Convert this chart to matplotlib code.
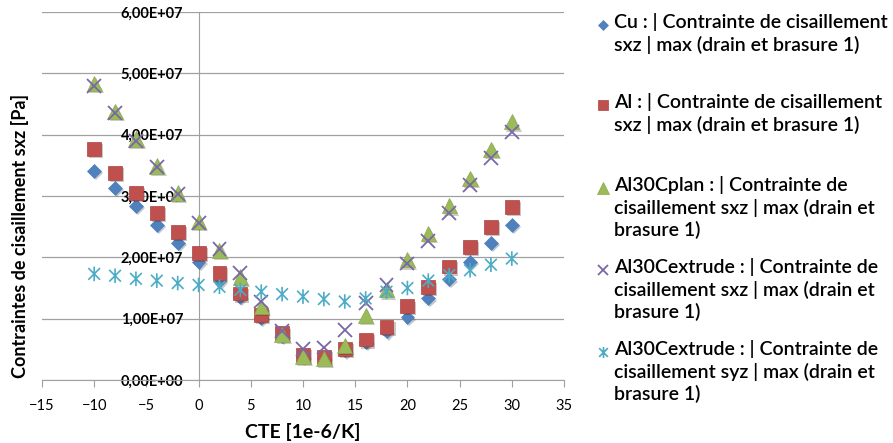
import matplotlib
matplotlib.use("Agg")
import matplotlib.pyplot as plt
import matplotlib.patheffects as pe
from matplotlib.path import Path
from matplotlib.lines import Line2D
from matplotlib.ticker import FuncFormatter, MultipleLocator

plt.rcParams["font.family"] = ["Lato", "DejaVu Sans"]

# CTE values [1e-6/K]
cte = [-10, -8, -6, -4, -2, 0, 2, 4, 6, 8, 10, 12, 14, 16, 18, 20, 22, 24, 26, 28, 30]

# shear stress values, in units of 1e7 Pa
cu_sxz = [3.41, 3.13, 2.84, 2.53, 2.23, 1.93, 1.62, 1.35, 1.01, 0.72, 0.38,
          0.36, 0.48, 0.62, 0.79, 1.02, 1.33, 1.64, 1.93, 2.23, 2.53]
al_sxz = [3.77, 3.38, 3.05, 2.72, 2.41, 2.07, 1.74, 1.41, 1.06, 0.76, 0.41,
          0.38, 0.51, 0.66, 0.87, 1.20, 1.51, 1.85, 2.17, 2.50, 2.82]
al30plan_sxz = [4.84, 4.38, 3.93, 3.49, 3.05, 2.58, 2.11, 1.68, 1.20, 0.74, 0.38,
                0.35, 0.56, 1.05, 1.47, 1.96, 2.39, 2.84, 3.29, 3.76, 4.21]
al30ext_sxz = [4.79, 4.36, 3.90, 3.47, 3.03, 2.56, 2.13, 1.74, 1.28, 0.80, 0.50,
               0.53, 0.82, 1.25, 1.55, 1.90, 2.27, 2.72, 3.18, 3.62, 4.05]
al30ext_syz = [1.73, 1.70, 1.65, 1.62, 1.58, 1.55, 1.52, 1.47, 1.44, 1.40, 1.36,
               1.32, 1.28, 1.33, 1.44, 1.50, 1.62, 1.71, 1.79, 1.88, 1.98]

labels = [
    "Cu : | Contrainte de cisaillement\nsxz | max (drain et brasure 1)",
    "Al : | Contrainte de cisaillement\nsxz | max (drain et brasure 1)",
    "Al30Cplan : | Contrainte de\ncisaillement sxz | max (drain et\nbrasure 1)",
    "Al30Cextrude : | Contrainte de\ncisaillement sxz | max (drain et\nbrasure 1)",
    "Al30Cextrude : | Contrainte de\ncisaillement syz | max (drain et\nbrasure 1)",
]

# excel-like star marker: X with a vertical bar
star = Path([(0, -1), (0, 1), (-0.8, -0.8), (0.8, 0.8), (-0.8, 0.8), (0.8, -0.8)],
            [Path.MOVETO, Path.LINETO, Path.MOVETO, Path.LINETO, Path.MOVETO, Path.LINETO])

styles = [
    dict(marker="D", color="#4F81BD", ms=7, mec="#4F81BD", mew=0.5),
    dict(marker="s", color="#C0504D", ms=10, mec="#A8423F", mew=0.5),
    dict(marker="^", color="#9BBB59", ms=11, mec="#8AA84E", mew=0.5),
    dict(marker="x", color="#7A67A6", ms=10, mew=1.3),
    dict(marker=star, color="#4BACC6", ms=10.5, mew=1.2),
]
series = [cu_sxz, al_sxz, al30plan_sxz, al30ext_sxz, al30ext_syz]

fig = plt.figure(figsize=(8.93, 4.43), dpi=100)
ax = fig.add_axes([0.047, 0.1422, 0.5846, 0.8307])

shadow = [pe.SimplePatchShadow(offset=(1.5, -1.5), alpha=0.25), pe.Normal()]
for vals, st in zip(series, styles):
    ax.plot(cte, [v * 1e7 for v in vals], linestyle="none", zorder=3,
            path_effects=shadow, **st)

ax.set_xlim(-15, 35)
ax.set_ylim(0, 6e7)
ax.xaxis.set_major_locator(MultipleLocator(5))
ax.yaxis.set_major_locator(MultipleLocator(1e7))
ax.yaxis.set_major_formatter(FuncFormatter(lambda v, p: ("%.2E" % v).replace(".", ",")))

ax.grid(axis="y", color="#A0A0A0", linewidth=0.9)
ax.set_axisbelow(True)
for s in ["top", "right"]:
    ax.spines[s].set_visible(False)
ax.spines["left"].set_position(("data", 0))
ax.spines["left"].set_color("#A0A0A0")
ax.spines["bottom"].set_color("#A0A0A0")

ax.tick_params(axis="y", length=0, pad=11, labelsize=10.5)
ax.tick_params(axis="x", length=5, color="#A0A0A0", pad=9, labelsize=10.5)
for t in ax.get_yticklabels():
    t.set_fontweight("bold")
    t.set_zorder(1)

ax.set_xlabel("CTE [1e-6/K]", fontsize=14, fontweight="bold", labelpad=7)
fig.text(0.022, 1 - 236 / 443, "Contraintes de cisaillement sxz [Pa]", rotation=90,
         ha="center", va="center", fontsize=13, fontweight="bold")

# legend on the right, marker at the first text line
leg_top = [25, 105, 188, 270, 352]
for lab, st, ytop in zip(labels, styles, leg_top):
    yf = 1 - ytop / 443
    lst = dict(st)
    lst["ms"] = st["ms"] * 0.75
    fig.add_artist(Line2D([603 / 893], [yf], transform=fig.transFigure,
                          linestyle="none", **lst))
    fig.text(614 / 893, 1 - (ytop - 12) / 443, lab, ha="left", va="top",
             fontsize=14, fontweight="semibold", linespacing=1.3)

fig.savefig("out.png", dpi=100)
